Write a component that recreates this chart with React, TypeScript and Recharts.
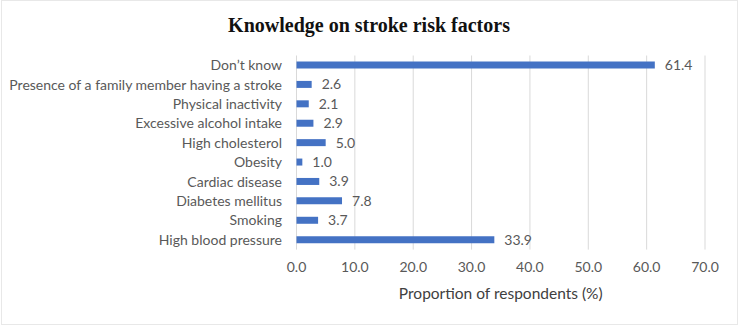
import React from 'react';
import { BarChart, Bar, XAxis, YAxis, CartesianGrid, LabelList } from 'recharts';

const categories = [
  "Don’t know",
  "Presence of a family member having a stroke",
  "Physical inactivity",
  "Excessive alcohol intake",
  "High cholesterol",
  "Obesity",
  "Cardiac disease",
  "Diabetes mellitus",
  "Smoking",
  "High blood pressure",
];
const values = [61.4, 2.6, 2.1, 2.9, 5.0, 1.0, 3.9, 7.8, 3.7, 33.9];
const xTicks = [0, 10, 20, 30, 40, 50, 60, 70];
const title = "Knowledge on stroke risk factors";
const xLabel = "Proportion of respondents (%)";

const data = categories.map((name, i) => ({ name, value: values[i] }));

export default function App() {
  return (
    <div style={{ position: 'absolute', left: 0, top: 0, width: 738, height: 326, background: '#fff' }}>
      <div style={{ position: 'absolute', left: 1, top: 0, width: 735, height: 323, border: '1px solid #e8e8e8' }} />
      <div style={{ position: 'absolute', left: 0, top: 11, width: 738, textAlign: 'center', fontFamily: '"Liberation Serif", serif', fontWeight: 'bold', fontSize: 20, color: '#111', lineHeight: '28px' }}>
        {title}
      </div>
      <div style={{ position: 'absolute', left: 0, top: 0 }}>
        <BarChart
          width={738}
          height={326}
          data={data}
          layout="vertical"
          margin={{ top: 55.5, right: 33, bottom: 0, left: 0 }}
          barCategoryGap={0}
        >
          <CartesianGrid horizontal={false} vertical={true} stroke="#d9d9d9" />
          <XAxis
            type="number"
            domain={[0, 70]}
            ticks={xTicks}
            tickFormatter={(v: number) => v.toFixed(1)}
            axisLine={false}
            tickLine={false}
            tickSize={0}
            tickMargin={12}
            height={76.4}
            tick={{ fill: '#595959', fontSize: 14, fontFamily: 'Lato' }}
            interval={0}
            label={{ value: xLabel, position: 'insideBottom', offset: 27, fill: '#404040', fontSize: 15.5, fontFamily: 'Lato' }}
          />
          <YAxis
            type="category"
            dataKey="name"
            width={296.5}
            axisLine={false}
            tickLine={false}
            tickSize={0}
            tickMargin={14.5}
            interval={0}
            tick={{ fill: '#595959', fontSize: 14, fontFamily: 'Lato' }}
          />
          <Bar dataKey="value" fill="#4472C4" barSize={7} isAnimationActive={false}>
            <LabelList
              dataKey="value"
              position="right"
              offset={10}
              formatter={(v: number) => v.toFixed(1)}
              fill="#595959"
              fontSize={14}
              fontFamily="Lato"
            />
          </Bar>
        </BarChart>
      </div>
    </div>
  );
}
